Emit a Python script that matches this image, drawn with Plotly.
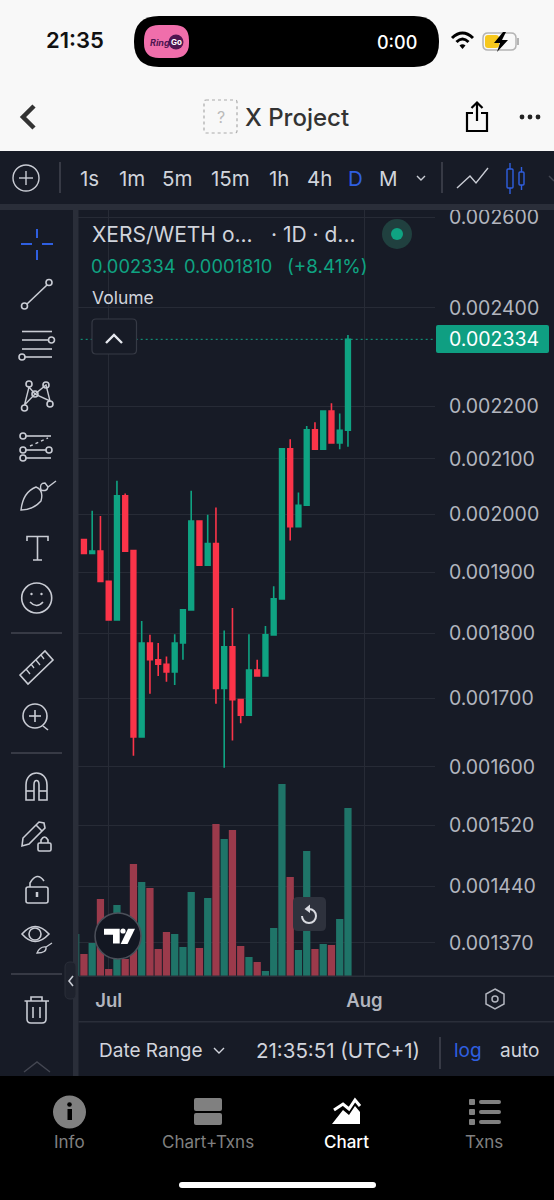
import pandas as pd
import plotly.graph_objects as go

# daily candles
dates = pd.date_range("2024-06-28", periods=33).strftime("%Y-%m-%d").tolist()
opens = [0.001956, 0.001932, 0.001936, 0.001885, 0.001822, 0.002033, 0.001937, 0.001643, 0.001785, 0.001759, 0.001752,
         0.001740, 0.001785, 0.001838, 0.001988, 0.001912, 0.001949, 0.001715, 0.001779, 0.001698, 0.001675, 0.001743,
         0.001734, 0.001798, 0.001856, 0.002119, 0.001978, 0.002016, 0.002155, 0.002118, 0.002191, 0.002130, 0.002154]
highs = [0.001956, 0.002006, 0.001997, 0.001885, 0.002060, 0.002037, 0.001937, 0.001820, 0.001798, 0.001785, 0.001764,
         0.001799, 0.001838, 0.002042, 0.001988, 0.001999, 0.002012, 0.001805, 0.001841, 0.001698, 0.001799, 0.001759,
         0.001812, 0.001877, 0.002119, 0.002137, 0.002039, 0.002162, 0.002169, 0.002191, 0.002206, 0.002186, 0.002343]
lows = [0.001932, 0.001932, 0.001885, 0.001822, 0.001822, 0.001936, 0.001616, 0.001643, 0.001707, 0.001734, 0.001725,
        0.001720, 0.001759, 0.001838, 0.001912, 0.001912, 0.001692, 0.001599, 0.001638, 0.001663, 0.001675, 0.001733,
        0.001734, 0.001798, 0.001856, 0.001954, 0.001978, 0.002016, 0.002118, 0.002118, 0.002130, 0.002118, 0.002123]
closes = [0.001932, 0.001936, 0.001885, 0.001822, 0.002033, 0.001936, 0.001643, 0.001785, 0.001759, 0.001752, 0.001740,
          0.001785, 0.001838, 0.001988, 0.001912, 0.001949, 0.001715, 0.001779, 0.001698, 0.001675, 0.001743, 0.001734,
          0.001798, 0.001856, 0.002119, 0.001978, 0.002016, 0.002155, 0.002118, 0.002191, 0.002130, 0.002154, 0.002334]

# first bar belongs to the day just off the left edge
volume_dates = ["2024-06-27"] + dates
volumes = [42, 22, 33, 77, 7, 71, 17, 112, 94, 88, 27, 44, 42, 29, 84, 28, 78, 152, 137, 146, 30, 19, 14, 5, 48, 192,
           99, 26, 125, 27, 32, 31, 57, 168]
volume_up = [True, False, True, False, False, True, False, False, True, False, False, False, True, True, True, False,
             True, False, True, False, False, True, False, True, True, True, False, True, True, False, True, False,
             True, True]

price_ticks = [0.0026, 0.0024, 0.0022, 0.0021, 0.0020, 0.0019, 0.0018, 0.0017, 0.0016, 0.00152, 0.00144, 0.00137]
price_labels = ["0.002600", "0.002400", "0.002200", "0.002100", "0.002000", "0.001900", "0.001800", "0.001700",
                "0.001600", "0.001520", "0.001440", "0.001370"]
month_ticks = ["2024-07-01", "2024-08-01"]
month_labels = ["Jul", "Aug"]

BG = "#171b26"
GRID = "#272b36"
GREEN = "#0fa382"
RED = "#fb3449"
VOL_GREEN = "#1f7468"
VOL_RED = "#9b3a4b"
TEXT = "#d1d4dc"
ICON = "#c9ccd4"
BLUE = "#2f5fe0"
GREY = "#808080"
FONT = "Inter"

shapes = []
notes = []


# everything below draws the app chrome in screen pixels on a hidden overlay axis
def path(d, line=ICON, fill=None, width=1.6, dash=None):
    shapes.append(dict(type="path", xref="x2", yref="y3", path=d, fillcolor=fill or "rgba(0,0,0,0)",
                       line=dict(color=line if line else "rgba(0,0,0,0)", width=width if line else 0, dash=dash)))


def seg(x0, y0, x1, y1, color=ICON, width=1.6):
    path(f"M {x0} {y0} L {x1} {y1}", line=color, width=width)


def box(x0, y0, x1, y1, fill):
    path(f"M {x0} {y0} L {x1} {y0} L {x1} {y1} L {x0} {y1} Z", line=None, fill=fill)


def rrect(x0, y0, x1, y1, r, fill=None, line=None, width=1.6):
    path(f"M {x0 + r} {y0} L {x1 - r} {y0} Q {x1} {y0} {x1} {y0 + r} L {x1} {y1 - r} Q {x1} {y1} {x1 - r} {y1} "
         f"L {x0 + r} {y1} Q {x0} {y1} {x0} {y1 - r} L {x0} {y0 + r} Q {x0} {y0} {x0 + r} {y0} Z",
         line=line, fill=fill, width=width)


def circle(cx, cy, r, line=ICON, fill=None, width=1.6):
    shapes.append(dict(type="circle", xref="x2", yref="y3", x0=cx - r, x1=cx + r, y0=cy - r, y1=cy + r,
                       fillcolor=fill or "rgba(0,0,0,0)",
                       line=dict(color=line if line else "rgba(0,0,0,0)", width=width if line else 0)))


def txt(x, y, s, size=19, color=TEXT, anchor="left", weight=400, style="normal"):
    notes.append(dict(xref="x2", yref="y3", x=x, y=y, text=s, showarrow=False, xanchor=anchor, yanchor="middle",
                      font=dict(family=FONT, size=size, color=color, weight=weight, style=style),
                      borderpad=0, borderwidth=0))


# page blocks
box(0, 0, 554, 151, "#f8f8f8")
box(0, 204, 554, 210, "#2a2e39")
box(73, 205, 78.5, 1076, "#2a2e39")
box(78.5, 975.5, 554, 977, "#2a2e39")
box(78.5, 1021, 554, 1022.5, "#2a2e39")

# status bar
txt(75, 40, "21:35", 22, "#111111", "center", 600)
rrect(134, 16, 439, 67, 25, fill="#000000")
rrect(144, 25, 189, 58, 15, fill="#f06eab")
txt(150, 42, "Ring", 9, "#4f1550", "left", 700, "italic")
circle(176, 42, 7.5, line=None, fill="#4f1550")
txt(176, 42, "Go", 8, "#ffffff", "center", 700)
txt(397, 42, "0:00", 18, "#ffffff", "center", 500)
path("M 452 38 Q 462.5 28 473 38", line="#000000", width=3)
path("M 456.5 42 Q 462.5 36 468.5 42", line="#000000", width=3)
path("M 459.5 45.5 Q 462.5 43 465.5 45.5 L 462.5 49 Z", line=None, fill="#000000")
rrect(483, 33, 516, 50, 5, fill="#f8f8f8", line="#b4b4b4", width=1.5)
rrect(485, 35, 499, 48, 3, fill="#f7c81d")
box(517, 38, 519, 45, "#b4b4b4")
path("M 503 32 L 494 43 L 500 43 L 497 52 L 508 40 L 502 40 L 506 32 Z", line=None, fill="#000000")

# header
path("M 34 106 L 23 117 L 34 128", line="#333333", width=4.5)
rrect(204, 100, 237, 133, 2, line="#aaaaaa", width=1.2)
shapes[-1]["line"]["dash"] = "dot"
txt(220.5, 117, "?", 16, "#bbbbbb", "center")
txt(245, 117, "X Project", 24, "#333333", "left", 500)
path("M 473 113 L 467 113 L 467 131 L 487 131 L 487 113 L 481 113", line="#000000", width=2.2)
path("M 477 121 L 477 103", line="#000000", width=2.2)
path("M 471.5 108 L 477 102.5 L 482.5 108", line="#000000", width=2.2)
for dot_x in (522, 530, 538):
    circle(dot_x, 117, 2.4, line=None, fill="#222222")

# interval toolbar
circle(26, 178, 13, line=ICON, width=1.4)
seg(26, 171, 26, 185, ICON, 1.4)
seg(19, 178, 33, 178, ICON, 1.4)
seg(60, 162, 60, 193, "#434651", 1.5)
for label, label_x in [("1s", 89), ("1m", 132), ("5m", 177), ("15m", 230), ("1h", 279), ("4h", 319), ("M", 388)]:
    txt(label_x, 178, label, 20.5, TEXT, "center")
txt(355, 178, "D", 20.5, BLUE, "center")
path("M 417 176 L 421 180 L 425 176", line=ICON, width=1.4)
seg(442, 162, 442, 193, "#434651", 1.5)
path("M 457 188 L 470 176 L 476 183 L 488 168", line=ICON, width=1.4)
rrect(507, 169, 513, 188, 1, line=BLUE, width=1.4)
seg(510, 163, 510, 169, BLUE, 1.4)
seg(510, 188, 510, 194, BLUE, 1.4)
rrect(519, 172, 524, 185, 1, line=BLUE, width=1.4)
seg(521.5, 167, 521.5, 172, BLUE, 1.4)
seg(521.5, 185, 521.5, 190, BLUE, 1.4)
path("M 549 176 L 554 181", line="#434651", width=1.4)

# drawing tools column
seg(37, 229, 37, 238, BLUE, 2)
seg(37, 250, 37, 260, BLUE, 2)
seg(21, 244, 32, 244, BLUE, 2)
seg(42, 244, 53, 244, BLUE, 2)

circle(24.5, 306, 3)
circle(49, 282.5, 3)
seg(27, 304, 47, 285)

seg(22, 331.5, 52, 331.5)
seg(22, 340, 48, 340)
circle(51.5, 340, 3)
seg(22, 349, 52, 349)
circle(22, 357, 3)
seg(25, 357, 52, 357)

for px_x, px_y in [(29, 384), (46, 385), (35, 394), (24.5, 408), (50, 404)]:
    circle(px_x, px_y, 3)
path("M 24.5 405 L 29 387 L 35 394 L 46 385 L 50 401 L 35 394 L 24.5 405", width=1.4)

circle(23, 436, 3)
seg(26, 436, 51, 436)
circle(23, 450, 3)
circle(49, 450, 3)
seg(26, 450, 46, 450)
circle(23, 458, 3)
seg(26, 458, 51, 458)
path("M 30 446 L 48 438", width=1.4, dash="dot")

path("M 21 510 Q 23 492 36 487 Q 44 490 41 501 Q 33 510 21 510 Z", width=1.4)
path("M 41 490 Q 39 483 45 483 L 48 487 L 56 481 M 41 490 Q 47 492 48 487", width=1.4)

path("M 27 541 L 27 536.5 L 48 536.5 L 48 541 M 37.5 536.5 L 37.5 560 M 33 560 L 42 560", width=1.6)

circle(36.7, 598, 15)
circle(31.5, 594, 1.2, line=None, fill=ICON)
circle(41.5, 594, 1.2, line=None, fill=ICON)
path("M 30 602 Q 36.7 609 43 602", width=1.6)

seg(11, 633, 62, 633, "#434651", 1.4)
path("M 20 675 L 45 651 L 53 660 L 28 684 Z")
for tick_x0, tick_y0, tick_x1, tick_y1 in [(26, 669, 30, 674), (31, 664, 34, 668), (36, 660, 40, 665), (41, 655, 44, 659)]:
    seg(tick_x0, tick_y0, tick_x1, tick_y1, ICON, 1.3)

circle(35, 716, 12)
seg(35, 710, 35, 722)
seg(29, 716, 41, 716)
seg(43, 726, 48, 730)

seg(11, 753, 62, 753, "#434651", 1.4)
path("M 26 800 L 26 785 C 26 769 47 769 47 785 L 47 800 L 39 800 L 39 785 C 39 779 34 779 34 785 L 34 800 Z")
seg(26, 791, 34, 791)
seg(39, 791, 47, 791)

path("M 22 846 L 23 838 L 39 822 L 44 823 L 45 828 L 29 844 Z")
seg(36, 825, 42, 831)
rrect(38, 843, 51, 851, 1.5, line=ICON)
path("M 41 843 L 41 840 Q 44.5 834 48 840 L 48 843")

rrect(26, 887, 48, 903, 2, line=ICON)
path("M 30 887 L 30 883 Q 37 871 44 881")
seg(37, 892, 37, 897, ICON, 2.5)

path("M 22 934 Q 35 919 49 934 Q 35 949 22 934 Z")
circle(35, 934, 6)
path("M 37 953 Q 40 946 46 947 Q 47 953 37 953 Z M 46 947 L 52 943", width=1.3)

seg(11, 974, 62, 974, "#434651", 1.4)
rrect(65, 962, 76, 999, 5, fill="#1e222d", line="#2a2e39", width=1)
path("M 73 976 L 69 981 L 73 986", line=ICON, width=1.6)

path("M 24.5 1001 L 49 1001 M 31 1001 L 31 997 L 42 997 L 42 1001")
path("M 27 1001 L 27 1019 Q 27 1023 31 1023 L 42 1023 Q 46 1023 46 1019 L 46 1001")
seg(33, 1007, 33, 1018)
seg(40, 1007, 40, 1018)
path("M 24 1072 L 37 1062 L 50 1072", line="#434651", width=1.4)

# legend block
txt(92, 234, "XERS/WETH o...", 21, TEXT)
txt(271, 234, "· 1D · d...", 21, TEXT)
circle(397, 234, 15, line=None, fill="#20403f")
circle(397, 234, 6, line=None, fill=GREEN)
txt(91, 266, "0.002334", 18.3, GREEN)
txt(184, 266, "0.0001810", 18.3, GREEN)
txt(287, 266, "(+8.41%)", 18.8, GREEN)
txt(92, 297, "Volume", 17.5, TEXT)
rrect(92, 319, 136.5, 354, 4, fill=BG, line="#363a45", width=1.2)
path("M 106 343 L 114 335 L 122 343", line="#e6e8ee", width=2.4)

# last price tag
rrect(436, 325, 549, 353, 2, fill="#0f9f82")
txt(449, 339, "0.002334", 19.5, "#ffffff")

# logo and reset button over the volume bars
circle(118, 936, 23, line="#4b4f59", fill="#131722", width=1.6)
path("M 104 928.7 L 119.7 928.7 L 119.7 943.5 L 113 943.5 L 113 934.7 L 104 934.7 Z", line=None, fill="#ffffff")
circle(123, 931, 2.6, line=None, fill="#ffffff")
path("M 128 928.7 L 135 928.7 L 127.5 944 L 120.7 944 Z", line=None, fill="#ffffff")

rrect(293, 897, 326, 931, 5, fill="#2e323d")
path("M 309 909 C 313 909 316 912 316 916 C 316 920 313 923 309 923 C 305 923 302 920 302 916", line="#d8dae0", width=2)
path("M 310 904.5 L 310 913 L 304.5 909 Z", line=None, fill="#d8dae0")

# time scale and bottom strip
path("M 495 989 L 504 994 L 504 1004 L 495 1009 L 486 1004 L 486 994 Z", line="#b2b5be", width=1.5)
circle(495, 999, 3, line="#b2b5be", width=1.5)
txt(99, 1050, "Date Range", 19, TEXT)
path("M 214 1048 L 219 1053 L 224 1048", line=TEXT, width=1.4)
txt(256, 1050, "21:35:51 (UTC+1)", 20.5, TEXT)
seg(440, 1037, 440, 1069, "#434651", 1.5)
txt(454, 1050, "log", 19, BLUE)
txt(500, 1050, "auto", 19, TEXT)

# tab bar
box(0, 1076, 554, 1200, "#000000")
circle(69.5, 1112, 16.5, line=None, fill=GREY)
circle(69.5, 1104.5, 2.3, line=None, fill="#000000")
box(67.5, 1109, 72, 1120, "#000000")
txt(69, 1142, "Info", 17, GREY, "center")
rrect(194, 1098, 222, 1111, 2, fill=GREY)
rrect(194, 1113, 222, 1125, 2, fill=GREY)
txt(208, 1142, "Chart+Txns", 17, GREY, "center")
path("M 334 1110 L 343 1104 L 349 1109 L 355 1100 L 360 1106", line="#ffffff", width=3)
path("M 332 1124 L 343 1110 L 349 1115 L 355 1106 L 360 1112 L 360 1124 Z", line=None, fill="#ffffff")
txt(346, 1142, "Chart", 17, "#ffffff", "center", 500)
for row_y in (1102, 1112, 1122):
    rrect(469, row_y - 3, 475, row_y + 3, 1, fill=GREY)
    rrect(479, row_y - 2, 501, row_y + 2, 2, fill=GREY)
txt(484, 1142, "Txns", 17, GREY, "center")
rrect(179, 1182, 376, 1188, 3, fill="#ffffff")

fig = go.Figure()

fig.add_trace(go.Bar(
    x=volume_dates,
    y=volumes,
    yaxis="y2",
    width=86400000 * 0.88,
    marker=dict(color=[VOL_GREEN if up else VOL_RED for up in volume_up], line=dict(width=0)),
    hoverinfo="skip"
))

fig.add_trace(go.Scatter(
    x=["2024-06-27", "2024-08-10"],
    y=[closes[-1], closes[-1]],
    mode="lines",
    line=dict(color=GREEN, width=1, dash="2px,3px"),
    hoverinfo="skip"
))

fig.add_trace(go.Candlestick(
    x=dates,
    open=opens,
    high=highs,
    low=lows,
    close=closes,
    whiskerwidth=0,
    increasing=dict(line=dict(color=GREEN, width=1.6), fillcolor=GREEN),
    decreasing=dict(line=dict(color=RED, width=1.6), fillcolor=RED),
    hoverinfo="skip"
))

# keeps the pixel overlay axes alive
fig.add_trace(go.Scatter(x=[None], y=[None], xaxis="x2", yaxis="y3", hoverinfo="skip"))

fig.update_layout(
    width=554,
    height=1200,
    margin=dict(l=0, r=0, t=0, b=0),
    paper_bgcolor=BG,
    plot_bgcolor="rgba(0,0,0,0)",
    showlegend=False,
    boxgap=0.18,
    shapes=shapes,
    annotations=notes,
    font=dict(family=FONT),
    xaxis=dict(
        domain=[78 / 554, 435 / 554],
        type="date",
        range=["2024-06-27 06:43", "2024-08-09 13:12"],
        rangeslider=dict(visible=False),
        tickmode="array",
        tickvals=month_ticks,
        ticktext=month_labels,
        tickangle=0,
        tickfont=dict(family=FONT, size=18.5, color="#b2b5be", weight=600),
        ticks="outside",
        ticklen=8,
        tickcolor="rgba(0,0,0,0)",
        showgrid=True,
        gridcolor=GRID,
        gridwidth=1,
        zeroline=False,
        showline=False,
        automargin=False,
        fixedrange=True
    ),
    yaxis=dict(
        domain=[1 - 976 / 1200, 1 - 210 / 1200],
        type="log",
        range=[-2.87602, -2.58231],
        side="right",
        tickmode="array",
        tickvals=price_ticks,
        ticktext=price_labels,
        tickfont=dict(family=FONT, size=19.5, color="#b2b5be"),
        ticks="outside",
        ticklen=9,
        tickcolor="rgba(0,0,0,0)",
        showgrid=True,
        gridcolor=GRID,
        gridwidth=1,
        zeroline=False,
        showline=False,
        automargin=False,
        fixedrange=True
    ),
    yaxis2=dict(
        domain=[1 - 976 / 1200, 1 - 210 / 1200],
        overlaying="y",
        range=[0, 766],
        visible=False,
        automargin=False,
        fixedrange=True
    ),
    xaxis2=dict(domain=[0, 1], range=[0, 554], visible=False, anchor="y3", automargin=False, fixedrange=True),
    yaxis3=dict(domain=[0, 1], range=[1200, 0], visible=False, anchor="x2", automargin=False, fixedrange=True)
)

fig.write_html("out.html", config={"displayModeBar": False},
               post_script="document.body.style.margin='0';document.body.style.overflow='hidden';")
